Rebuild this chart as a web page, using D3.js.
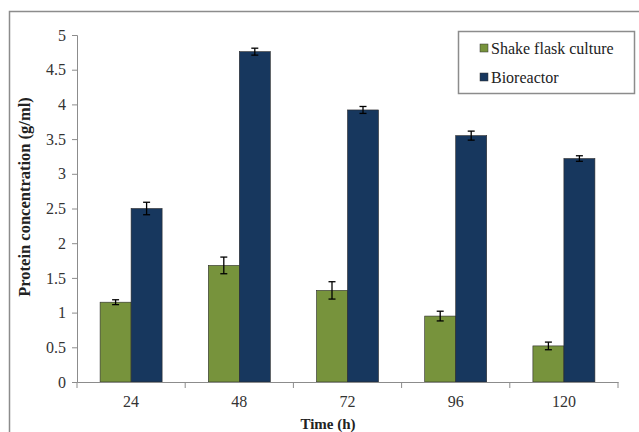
<!DOCTYPE html>
<html>
<head>
<meta charset="utf-8">
<script src="https://cdn.jsdelivr.net/npm/d3@7"></script>
<style>
  body { margin: 0; background: #fff; }
  svg text { font-family: "Liberation Serif", Tinos, "DejaVu Serif", serif !important; }
</style>
</head>
<body>
<div id="chart"></div>
<script>
// chart data
const timePoints = ['24', '48', '72', '96', '120'];
const seriesNames = ['Shake flask culture', 'Bioreactor'];
const shakeFlask = [1.15, 1.68, 1.32, 0.95, 0.52];
const shakeFlaskErr = [0.035, 0.12, 0.125, 0.07, 0.055];
const bioreactor = [2.50, 4.76, 3.92, 3.55, 3.22];
const bioreactorErr = [0.09, 0.05, 0.05, 0.065, 0.04];
const yTicks = [0, 0.5, 1, 1.5, 2, 2.5, 3, 3.5, 4, 4.5, 5];

const colors = ['#77933C', '#17375E'];
const width = 639, height = 432;
const margin = { top: 35, right: 21, bottom: 50, left: 77 };

const svg = d3.select('#chart')
  .append('svg')
  .attr('width', width)
  .attr('height', height);

// outer frame
svg.append('rect')
  .attr('x', 9.5).attr('y', 11.5)
  .attr('width', 700).attr('height', 500)
  .attr('fill', 'none')
  .attr('stroke', '#8c8c8c')
  .attr('stroke-width', 1.5);

const x0 = d3.scaleBand()
  .domain(timePoints)
  .range([margin.left, width - margin.right]);

const y = d3.scaleLinear()
  .domain([0, 5])
  .range([height - margin.bottom, margin.top]);

const barW = 31;
const x1 = d3.scaleBand()
  .domain(seriesNames)
  .range([0, barW * 2]);

const rows = timePoints.map((t, i) => ({
  t,
  vals: [
    { s: seriesNames[0], v: shakeFlask[i], e: shakeFlaskErr[i] },
    { s: seriesNames[1], v: bioreactor[i], e: bioreactorErr[i] }
  ]
}));

// y axis
const yAxis = svg.append('g')
  .attr('transform', `translate(${margin.left},0)`)
  .call(d3.axisLeft(y).tickValues(yTicks).tickSize(5).tickFormat(d3.format('~g')));
yAxis.select('.domain').attr('stroke', '#8c8c8c');
yAxis.selectAll('.tick line').attr('stroke', '#8c8c8c');
yAxis.selectAll('.tick text')
  .attr('x', -11)
  .attr('fill', '#333')
  .style('font-size', '16px');

// groups
const group = svg.selectAll('.grp')
  .data(rows)
  .enter().append('g')
  .attr('class', 'grp')
  .attr('transform', d => `translate(${x0(d.t) + x0.bandwidth() / 2 - barW},0)`);

group.selectAll('rect')
  .data(d => d.vals)
  .enter().append('rect')
  .attr('x', d => x1(d.s))
  .attr('y', d => y(d.v))
  .attr('width', barW)
  .attr('height', d => y(0) - y(d.v))
  .attr('fill', (d, i) => colors[i])
  .attr('stroke', '#2b2b2b')
  .attr('stroke-width', 0.6);

// error bars
const eb = group.selectAll('.err')
  .data(d => d.vals)
  .enter().append('g')
  .attr('class', 'err')
  .attr('stroke', '#000')
  .attr('stroke-width', 1.3);
eb.append('line')
  .attr('x1', d => x1(d.s) + barW / 2).attr('x2', d => x1(d.s) + barW / 2)
  .attr('y1', d => y(d.v + d.e)).attr('y2', d => y(d.v - d.e));
eb.append('line')
  .attr('x1', d => x1(d.s) + barW / 2 - 3.5).attr('x2', d => x1(d.s) + barW / 2 + 3.5)
  .attr('y1', d => y(d.v + d.e)).attr('y2', d => y(d.v + d.e));
eb.append('line')
  .attr('x1', d => x1(d.s) + barW / 2 - 3.5).attr('x2', d => x1(d.s) + barW / 2 + 3.5)
  .attr('y1', d => y(d.v - d.e)).attr('y2', d => y(d.v - d.e));

// x axis with ticks at category boundaries
const xAxis = svg.append('g')
  .attr('transform', `translate(0,${y(0)})`)
  .call(d3.axisBottom(x0).tickSize(0).tickPadding(14));
xAxis.select('.domain').attr('stroke', '#8c8c8c');
xAxis.selectAll('.tick text')
  .attr('fill', '#333')
  .style('font-size', '16px');
const bounds = timePoints.map(t => x0(t)).concat([x0(timePoints[timePoints.length - 1]) + x0.bandwidth()]);
xAxis.selectAll('.bnd')
  .data(bounds)
  .enter().append('line')
  .attr('class', 'bnd')
  .attr('x1', d => d).attr('x2', d => d)
  .attr('y1', 0).attr('y2', 6)
  .attr('stroke', '#8c8c8c');

// axis titles
svg.append('text')
  .attr('transform', 'translate(30,197) rotate(-90)')
  .attr('text-anchor', 'middle')
  .style('font-size', '16.5px')
  .style('font-weight', 'bold')
  .attr('fill', '#222')
  .text('Protein concentration (g/ml)');

svg.append('text')
  .attr('x', 328)
  .attr('y', 429)
  .attr('text-anchor', 'middle')
  .style('font-size', '15px')
  .style('font-weight', 'bold')
  .attr('fill', '#222')
  .text('Time (h)');

// legend
const legend = svg.append('g').attr('transform', 'translate(458,31)');
legend.append('rect')
  .attr('x', 0.5).attr('y', 0.5)
  .attr('width', 176).attr('height', 62)
  .attr('fill', '#fff')
  .attr('stroke', '#8c8c8c')
  .attr('stroke-width', 1.5);
const li = legend.selectAll('.li')
  .data(seriesNames)
  .enter().append('g')
  .attr('class', 'li')
  .attr('transform', (d, i) => `translate(22,${17 + i * 29})`);
li.append('rect')
  .attr('x', 0).attr('y', -4)
  .attr('width', 8).attr('height', 8)
  .attr('fill', (d, i) => colors[i])
  .attr('stroke', '#333')
  .attr('stroke-width', 0.5);
li.append('text')
  .attr('x', 11)
  .attr('dy', '0.35em')
  .style('font-size', '16px')
  .attr('fill', '#222')
  .text(d => d);
</script>
</body>
</html>
